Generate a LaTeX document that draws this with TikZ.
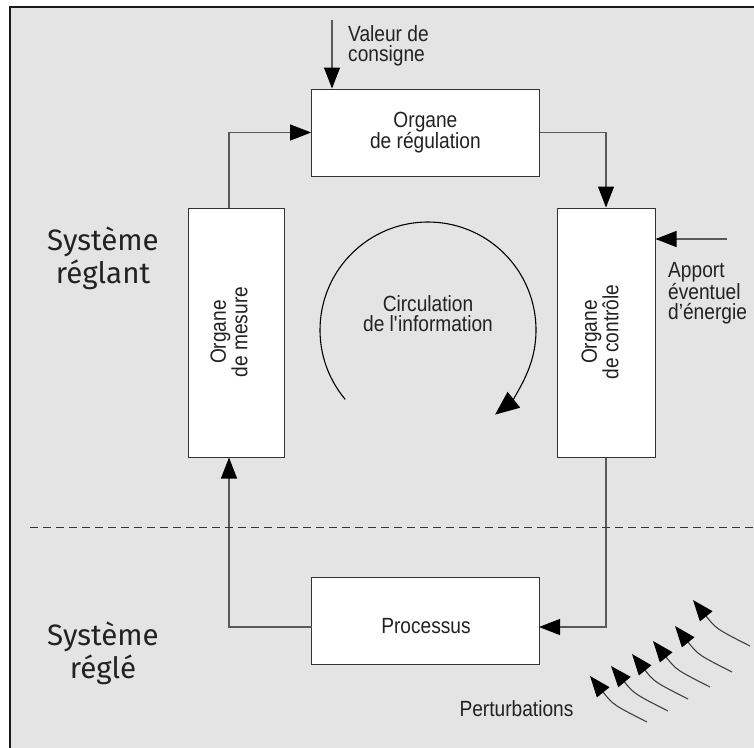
\documentclass[tikz,border=0pt]{standalone}
\usepackage{fontspec}
\setmainfont{Liberation Sans}[FakeStretch=0.87]
\newfontfamily\sysfont{Fira Sans}
\usetikzlibrary{arrows.meta,calc}
\definecolor{bg}{HTML}{E4E4E4}
\definecolor{ink}{HTML}{222222}
\tikzset{
  lab/.style={font=\fontsize{22}{20.5}\selectfont, text=ink, align=center, inner sep=0pt},
  sys/.style={font=\sysfont\fontsize{29.5}{33}\selectfont, text=ink, align=center, inner sep=0pt},
  box/.style={draw=black!80, fill=white, line width=1pt, inner sep=0pt},
  tip/.style={-{Triangle[length=21pt,width=16pt,color=black]}},
  conn/.style={draw=black!65, line width=1.1pt, tip},
  curv/.style={draw=black!75, line width=1.1pt, tip},
  bigtip/.style={-{Triangle[length=24pt,width=20pt,color=black]}},
}
\begin{document}
\begin{tikzpicture}[x=1pt,y=-1pt]
\useasboundingbox (0,0) rectangle (754,747);
% frame
\fill[bg] (10,7) rectangle (770,770);
\draw[black!90, line width=1.6pt] (10,770) -- (10,7) -- (770,7);

% boxes
\node[box, lab, minimum width=227.5pt, minimum height=87pt] (reg) at (425.4,132.5) {Organe\\de régulation};
\node[box, minimum width=96pt, minimum height=249pt] (mes) at (236,332.5) {};
\node[box, minimum width=98pt, minimum height=249pt] (ctl) at (606,332.5) {};
\node[box, minimum width=227.5pt, minimum height=87pt] (proc) at (425.4,620.5) {};

\node[lab, rotate=90] (mest) at (229,332) {Organe\\de mesure};
\node[lab, rotate=90] (ctlt) at (600,332) {Organe\\de contrôle};
\node[lab, anchor=base] (proct) at (426,633) {Processus};

% labels
\node[lab, align=left, anchor=north west] (val) at (348,25) {Valeur de\\consigne};
\node[lab, align=left, anchor=north west] (app) at (668,262) {Apport\\éventuel\\d’énergie};
\node[lab, anchor=base] (pert) at (516.5,716.7) {Perturbations};
\node[lab, anchor=north] (circ) at (428,295) {Circulation\\de l\textquotesingle information};
\node[sys, anchor=north] (sr) at (103,227) {Système\\réglant};
\node[sys, anchor=north] (sd) at (103,622) {Système\\réglé};

% helper coordinates
\coordinate (Lx) at (229,0);
\coordinate (v0) at (332,20);
\coordinate (a0) at (727,239);
\coordinate (pe) at (539,627);
\coordinate (pw) at (311.7,627);
\coordinate (d0) at (30,527);
\coordinate (d1) at (754,527);
\coordinate (cc) at (428,330);

% connectors
\draw[conn] (v0) -- (reg.north -| v0);
\draw[conn] (mes.north -| Lx) |- (reg.west);
\draw[conn] (reg.east) -| (ctl.north);
\draw[conn] (a0) -- (ctl.east |- a0);
\draw[conn] (ctl.south) |- (pe);
\draw[conn] (pw) -| (mes.south -| Lx);

% dashed separator
\draw[black!80, line width=0.9pt, dash pattern=on 8pt off 5pt] (d0) -- (d1);

% circulation arc
\draw[black, line width=1.1pt, bigtip] ([shift={(140:108)}]cc) arc[start angle=140, end angle=411.6, radius=108];

% perturbations
\foreach \i/\tx/\ty/\px/\py in {1/647/722/590/676, 2/668/711/611/666, 3/688/699/632/654, 4/710/687/653/641, 5/732/672/675/626, 6/750/646/693/600}{
  \coordinate (t\i) at (\tx,\ty);
  \coordinate (p\i) at (\px,\py);
  \coordinate (c\i) at ($(t\i)+(-33.5,-17)$);
  \draw[curv] (t\i) .. controls (c\i) .. (p\i);
}
\end{tikzpicture}
\end{document}
